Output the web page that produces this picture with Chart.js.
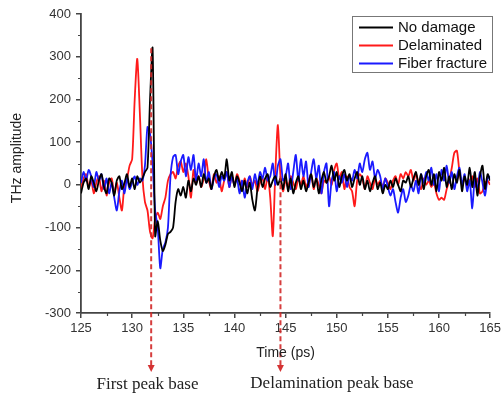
<!DOCTYPE html>
<html>
<head>
<meta charset="utf-8">
<script src="https://cdn.jsdelivr.net/npm/chart.js@4.4.1/dist/chart.umd.min.js"></script>
<style>
  html, body { margin: 0; padding: 0; background: #fff; }
  #wrap { width: 504px; height: 396px; }
</style>
</head>
<body>
<div id="wrap"><canvas id="thz" width="504" height="396"></canvas></div>
<script>
/* ================= DATA ================= */
// time axis: 125 ps to 165 ps, one sample every 0.25 ps
const tStart = 125;
const tStep = 0.25;

const xTicks = [125, 130, 135, 140, 145, 150, 155, 160, 165];
const yTicks = [-300, -200, -100, 0, 100, 200, 300, 400];

const seriesNames = ["No damage", "Delaminated", "Fiber fracture"];
const seriesColors = ["#000000", "#ff1a1a", "#1a1aff"];

const noDamage = [
  -20, 5, 15, -10, 20, 5, -15, 10,
  25, -5, -20, 15, 5, -25, 10, 20,
  -10, 5, 25, -5, 15, -10, 20, 5,
  15, 30, 40, 200, 320, -120, -85, -130,
  -155, -140, -115, -110, -100, -40, -10, -25,
  -5, -30, 10, -15, 15, 0, 20, -5,
  25, 5, 15, -10, 20, 35, 10, 30,
  15, 60, 10, 30, -5, 20, 5, -15,
  10, -20, 5, -35, -60, -10, 20, -5,
  15, 25, -5, 10, 20, 0, 15, -10,
  25, -15, 15, -20, 5, 20, -10, 10,
  -15, 5, 25, -5, 15, -20, 10, 30,
  5, 20, 45, 10, 30, -5, 20, 35,
  10, 25, -5, 15, 30, 0, 20, -10,
  10, -15, 5, 20, -10, 5, -20, 0,
  -10, 10, -5, 15, 0, -15, 10, 5,
  20, -5, 15, 30, 0, 25, -10, 20,
  35, 0, 25, -15, 30, 10, 40, -5,
  20, -10, 25, 5, 35, -15, 20, 0,
  40, -5, 30, -25, 20, 45, -10, 25,
  10
];

const delaminated = [
  -10, 15, 25, -5, 10, -20, 5, 20,
  -15, 10, -25, 5, 15, -20, 5, -30,
  -60, 0, 15, 45, 60, 200, 295, 170,
  20, -40, -60, -110, -125, -80, -65, -80,
  -50, -30, 10, 25, 30, 15, 45, 55,
  30, 50, 20, -30, 35, 5, 20, -5,
  15, 60, 10, -10, 25, 5, 20, -15,
  10, 30, -5, 20, 0, 25, 10, -10,
  15, -5, 20, 0, 10, -15, 5, 15,
  -10, 20, -30, -120, 30, 140, 20, -15,
  10, -5, 20, 5, -10, 15, 0, 20,
  -5, 10, 25, -10, 15, 0, -20, 10,
  5, 20, 0, 35, 50, 15, 30, -10,
  20, -5, -15, -50, 10, 25, 15, -10,
  20, 5, -10, 15, 0, 10, -5, 15,
  5, -10, 10, 20, 0, 25, 15, 30,
  20, 35, 10, 25, 5, -10, 15, 0,
  10, -5, 5, -20, -35, -30, -35, -10,
  10, 40, 75, 80, 30, 0, 15, -5,
  10, 20, -5, 15, -20, -15, 5, 10,
  0
];

const fiberFracture = [
  5, 30, 10, 35, 20, -5, 30, 10,
  25, -10, 15, -20, 5, -30, -60, -15,
  10, -20, 15, -10, 5, 20, 0, 15,
  10, 45, 135, 120, 50, -60, -100, -195,
  -150, -135, -100, 20, 65, 70, 25, 55,
  70, 20, 65, 35, 70, 10, 50, 20,
  60, 5, 30, -10, 15, 25, -5, 20,
  10, 30, -5, 20, 0, 15, -20, 10,
  -30, 5, 20, -10, 25, 0, 30, 15,
  40, 10, 20, 50, 0, 45, 60, 10,
  20, 50, -10, 30, 70, 10, 60, 20,
  55, -5, 30, 60, 15, 45, -20, 30,
  50, -50, 10, 30, -15, 20, 5, 25,
  -5, 20, 10, 35, 15, 50, 30, 60,
  75, 35, 55, 15, 35, 20, -10, 15,
  -5, -25, -10, -40, -65, -30, -10, -40,
  -25, 0, -15, 10, -20, 25, 5, 30,
  10, 40, 0, 25, -15, 35, 10, 45,
  5, 30, -10, 20, 40, 0, 25, -15,
  10, -55, 15, -10, 30, 5, -25, 15,
  20
];

// annotation arrows (time in ps)
const arrowTimes = [131.86, 144.5];
const arrowTopValues = [320, 20];
const arrowLabels = ["First peak base", "Delamination peak base"];

/* ================= HELPERS ================= */
function toPoints(values) {
  return values.map((v, i) => ({ x: tStart + i * tStep, y: v }));
}

const AXIS = "#444";
const TEXT = "#333";

const decor = {
  id: "decor",
  afterDatasetsDraw(chart) {
    const ctx = chart.ctx;
    const xs = chart.scales.x, ys = chart.scales.y;
    ctx.save();
    // dashed arrows
    arrowTimes.forEach((t, i) => {
      const px = xs.getPixelForValue(t);
      const top = ys.getPixelForValue(arrowTopValues[i]);
      const tip = 372;
      ctx.strokeStyle = "rgba(210,40,40,0.9)";
      ctx.fillStyle = "rgba(210,40,40,0.95)";
      ctx.lineWidth = 2;
      ctx.setLineDash([5, 3]);
      ctx.beginPath();
      ctx.moveTo(px, top);
      ctx.lineTo(px, tip - 6);
      ctx.stroke();
      ctx.setLineDash([]);
      ctx.beginPath();
      ctx.moveTo(px - 3.5, tip - 7);
      ctx.lineTo(px + 3.5, tip - 7);
      ctx.lineTo(px, tip);
      ctx.closePath();
      ctx.fill();
    });

    // legend
    ctx.fillStyle = "#fff";
    ctx.fillRect(352, 16, 140, 56);
    ctx.strokeStyle = "#777";
    ctx.lineWidth = 1;
    ctx.strokeRect(352.5, 16.5, 140, 56);
    const rows = [27.5, 45.5, 63.5];
    ctx.font = "15px 'Liberation Sans', Arial, sans-serif";
    ctx.textBaseline = "middle";
    ctx.textAlign = "left";
    seriesNames.forEach((name, i) => {
      ctx.strokeStyle = seriesColors[i];
      ctx.lineWidth = 2;
      ctx.beginPath();
      ctx.moveTo(359, rows[i]);
      ctx.lineTo(393, rows[i]);
      ctx.stroke();
      ctx.fillStyle = "#111";
      ctx.fillText(name, 398, rows[i] + 0.5);
    });
    ctx.restore();
  },
  afterDraw(chart) {
    const ctx = chart.ctx;
    const xs = chart.scales.x, ys = chart.scales.y;
    const area = chart.chartArea;
    ctx.save();
    // minor ticks
    ctx.strokeStyle = AXIS;
    ctx.lineWidth = 1.2;
    ctx.beginPath();
    for (let t = 127.5; t < 165; t += 5) {
      const px = Math.round(xs.getPixelForValue(t)) + 0.5;
      ctx.moveTo(px, area.bottom);
      ctx.lineTo(px, area.bottom + 3);
    }
    for (let v = -250; v < 400; v += 100) {
      const py = Math.round(ys.getPixelForValue(v)) + 0.5;
      ctx.moveTo(area.left, py);
      ctx.lineTo(area.left - 3, py);
    }
    ctx.stroke();

    // axis titles
    ctx.fillStyle = "#222";
    ctx.font = "14px 'Liberation Sans', Arial, sans-serif";
    ctx.textAlign = "center";
    ctx.textBaseline = "middle";
    ctx.fillText("Time (ps)", (area.left + area.right) / 2, 353);
    ctx.save();
    ctx.translate(17, 158);
    ctx.rotate(-Math.PI / 2);
    ctx.fillText("THz amplitude", 0, 0);
    ctx.restore();

    // arrow captions
    ctx.font = "17px 'Liberation Serif', 'Times New Roman', serif";
    ctx.fillStyle = "#222";
    ctx.fillText(arrowLabels[0], 147.5, 385);
    ctx.fillText(arrowLabels[1], 332, 384);
    ctx.restore();
  }
};

/* ================= CHART ================= */
const datasets = [noDamage, delaminated, fiberFracture].map((vals, i) => ({
  label: seriesNames[i],
  data: toPoints(vals),
  borderColor: seriesColors[i],
  borderWidth: 1.8,
  pointRadius: 0,
  tension: 0.25,
  fill: false,
  order: [0, 2, 1][i]
}));

new Chart(document.getElementById("thz"), {
  type: "line",
  data: { datasets },
  options: {
    responsive: false,
    animation: false,
    events: [],
    layout: { padding: { left: 0, right: 9, top: 14, bottom: 0 } },
    plugins: {
      legend: { display: false },
      tooltip: { enabled: false }
    },
    scales: {
      x: {
        type: "linear",
        min: 125,
        max: 165,
        afterBuildTicks: s => { s.ticks = xTicks.map(v => ({ value: v })); },
        afterFit: s => { s.height = 83; },
        ticks: {
          color: TEXT,
          font: { family: "'Liberation Sans', Arial, sans-serif", size: 13 },
          padding: 3,
          maxRotation: 0
        },
        grid: { drawOnChartArea: false, drawTicks: true, tickLength: 5, color: AXIS, lineWidth: 1.5 },
        border: { display: true, color: AXIS, width: 1.8 }
      },
      y: {
        min: -300,
        max: 400,
        afterBuildTicks: s => { s.ticks = yTicks.map(v => ({ value: v })); },
        afterFit: s => { s.width = 81; },
        ticks: {
          color: TEXT,
          font: { family: "'Liberation Sans', Arial, sans-serif", size: 13 },
          padding: 5
        },
        grid: { drawOnChartArea: false, drawTicks: true, tickLength: 5, color: AXIS, lineWidth: 1.5 },
        border: { display: true, color: AXIS, width: 1.8 }
      }
    }
  },
  plugins: [decor]
});
</script>
</body>
</html>
